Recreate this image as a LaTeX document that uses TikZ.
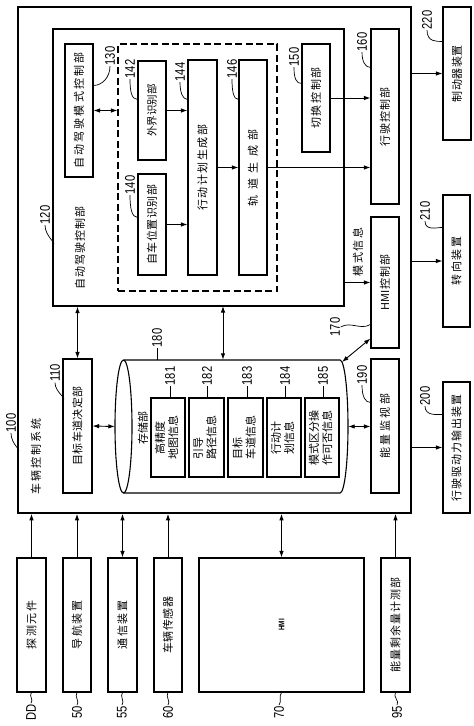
\documentclass[tikz,border=0pt]{standalone}
\usepackage{graphicx}
\usepackage{fontspec}
\setmainfont{Noto Sans CJK SC}
\newfontfamily\numfont[FakeStretch=0.8]{Liberation Sans}
\usetikzlibrary{arrows.meta,calc}
\newdimen\gapamt
\def\spxx#1{\ifx#1\relax\else\kern\gapamt#1\expandafter\spxx\fi}
\def\spfirst#1{#1\spxx}
\newcommand\ls[2]{\gapamt=#1\relax\spfirst#2\relax}
\begin{document}
\begin{tikzpicture}[x=1pt,y=-1pt,
  box/.style={draw, line width=1.1pt, inner sep=0pt, font=\fontsize{11}{13}\selectfont},
  lbl/.style={rotate=90, font=\numfont\fontsize{14}{14}\selectfont, inner sep=0.5pt},
  arr/.style={line width=0.9pt, -{Latex[length=6.5pt,width=4.5pt]}},
  darr/.style={line width=0.9pt, {Latex[length=6.5pt,width=4.5pt]}-{Latex[length=6.5pt,width=4.5pt]}},
  lead/.style={line width=0.7pt},
  vt/.style={rotate=90, font=\fontsize{11}{13}\selectfont, inner sep=1pt}
]
\useasboundingbox (0,0) rectangle (474,726);

% frames
\node[draw, line width=1.6pt, minimum width=393pt, minimum height=506pt, inner sep=0pt] (b100) at (214.5,260) {};
\node[draw, line width=1.2pt, minimum width=291pt, minimum height=277pt, inner sep=0pt] (b120) at (198.5,167.5) {};
\node[draw, line width=1.1pt, dash pattern=on 7pt off 3.5pt, minimum width=159pt, minimum height=247pt, inner sep=0pt] (ap) at (197.5,167.5) {};

% inner boxes
\node[box, minimum width=28pt, minimum height=133pt] (b130) at (79,110.5) {\rotatebox{90}{\ls{2.2pt}{自动驾驶模式控制部}}};
\node[box, minimum width=28pt, minimum height=99pt] (b142) at (152,110.5) {\rotatebox{90}{\fontsize{10.5}{12}\selectfont 外界识别部}};
\node[box, minimum width=28pt, minimum height=101pt] (b140) at (152,224.5) {\rotatebox{90}{\ls{0.5pt}{自车位置识别部}}};
\node[box, minimum width=29pt, minimum height=215pt] (b144) at (202.5,167.5) {\rotatebox{90}{\ls{1.5pt}{行动计划生成部}}};
\node[box, minimum width=28pt, minimum height=215pt] (b146) at (253,167.5) {\rotatebox{90}{\ls{5.5pt}{轨道生成部}}};
\node[box, minimum width=28pt, minimum height=108pt] (b150) at (316,98) {\rotatebox{90}{\ls{1.6pt}{切换控制部}}};
\node[box, minimum width=28pt, minimum height=175pt] (b160) at (385,116.5) {\rotatebox{90}{\ls{1pt}{行驶控制部}}};
\node[box, minimum width=28pt, minimum height=131pt] (b170) at (385,282.5) {\rotatebox{90}{HMI\ls{1pt}{控制部}}};
\node[box, minimum width=28pt, minimum height=134pt] (b190) at (385,426) {\rotatebox{90}{\ls{2.5pt}{能量监视部}}};
\node[box, minimum width=29pt, minimum height=134pt] (b110) at (77.5,426) {\rotatebox{90}{\ls{0.3pt}{目标车道决定部}}};

% storage cylinder
\node[minimum width=233pt, minimum height=133pt, inner sep=0pt] (st) at (231.5,426.5) {};
\draw[line width=1.1pt] (123.5,360) -- (340,360) arc[start angle=90, end angle=-90, x radius=8pt, y radius=66.5pt] -- (123.5,493);
\draw[line width=1.1pt] (123.5,426.5) ellipse [x radius=8.5pt, y radius=66.5pt];
\node[vt] (tst) at (143,428) {存储部};
\node[box, minimum width=34pt, minimum height=79pt] (b181) at (168,437.5) {\rotatebox{90}{\begin{tabular}{@{}c@{}}高精度\\地图信息\end{tabular}}};
\node[box, minimum width=35pt, minimum height=79pt] (b182) at (206.5,437.5) {\rotatebox{90}{\begin{tabular}{@{}l@{}}引导\\路径信息\end{tabular}}};
\node[box, minimum width=35pt, minimum height=79pt] (b183) at (245.5,437.5) {\rotatebox{90}{\begin{tabular}{@{}l@{}}目标\\车道信息\end{tabular}}};
\node[box, minimum width=34pt, minimum height=79pt] (b184) at (284,437.5) {\rotatebox{90}{\begin{tabular}{@{}c@{}}行动计\\划信息\end{tabular}}};
\node[box, minimum width=34pt, minimum height=79pt] (b185) at (322,437.5) {\rotatebox{90}{\begin{tabular}{@{}c@{}}模式区分操\\作可否信息\end{tabular}}};

% outside right
\node[box, minimum width=28pt, minimum height=133pt] (b220) at (457,73.5) {\rotatebox{90}{\ls{0.5pt}{制动器装置}}};
\node[box, minimum width=27pt, minimum height=132pt] (b210) at (456.5,261) {\rotatebox{90}{\ls{1.5pt}{转向装置}}};
\node[box, minimum width=27pt, minimum height=131pt] (b200) at (456.5,447.5) {\rotatebox{90}{\ls{1pt}{行驶驱动力输出装置}}};

% outside bottom
\node[box, minimum width=29pt, minimum height=134pt] (bDD) at (31.5,625) {\rotatebox{90}{\ls{1.5pt}{探测元件}}};
\node[box, minimum width=28pt, minimum height=134pt] (b50) at (77,625) {\rotatebox{90}{\ls{1.5pt}{导航装置}}};
\node[box, minimum width=29pt, minimum height=134pt] (b55) at (122.5,625) {\rotatebox{90}{\ls{1.5pt}{通信装置}}};
\node[box, minimum width=28pt, minimum height=134pt] (b60) at (168,625) {\rotatebox{90}{\ls{0.5pt}{车辆传感器}}};
\node[box, minimum width=165pt, minimum height=134pt] (b70) at (281.5,625) {\rotatebox{90}{\numfont\bfseries\fontsize{8}{9}\selectfont HMI}};
\node[box, minimum width=29pt, minimum height=134pt] (b95) at (395.5,625) {\rotatebox{90}{\ls{1pt}{能量剩余量计测部}}};

% frame texts
\node[vt] (t100) at (36,456) {\ls{2pt}{车辆控制系统}};
\node[vt] (t120) at (80,248) {\ls{1pt}{自动驾驶控制部}};
\node[vt] (tmode) at (358,252) {\ls{1.5pt}{模式信息}};

% connectors
\draw[darr] (b130.east) -- (b130.east -| ap.west);
\draw[arr] (b142.east) -- (b142.east -| b144.west);
\draw[arr] (b140.east) -- (b140.east -| b144.west);
\draw[arr] (b144.east) -- (b146.west);
\draw[arr] (b146.east) -- (b146.east -| b160.west);
\draw[arr] (b150.east) -- (b150.east -| b160.west);
\draw[arr] (b170.west -| b120.east) -- (b170.west);
\draw[darr] (b110.north) -- (b110.north |- b120.south);
\coordinate (c1) at (223,306);
\draw[darr] (c1) -- (c1 |- st.north);
\draw[darr] (b110.east) -- (st.west);
\draw[darr] (st.east) -- (st.east -| b190.west);
\coordinate (c2) at (342,362);
\draw[darr] (c2) -- ($(b170.south west)+(0,-10)$);
\draw[arr] (b220.west -| b100.east) -- (b220.west);
\draw[arr] (b210.west -| b100.east) -- (b210.west);
\draw[arr] (b200.west -| b100.east) -- (b200.west);
\draw[arr] (bDD.north) -- (bDD.north |- b100.south);
\draw[arr] (b50.north) -- (b50.north |- b100.south);
\draw[darr] (b55.north) -- (b55.north |- b100.south);
\draw[arr] (b60.north) -- (b60.north |- b100.south);
\draw[darr] (b70.north) -- (b70.north |- b100.south);
\draw[arr] (b95.north) -- (b95.north |- b100.south);

% reference labels
\node[lbl] (L100) at (11,423) {100};
\node[lbl] (L110) at (55,373) {110};
\node[lbl] (L120) at (45,215) {120};
\node[lbl] (L130) at (110,56) {130};
\node[lbl] (L140) at (130,185) {140};
\node[lbl] (L142) at (130,69) {142};
\node[lbl] (L144) at (180,72) {144};
\node[lbl] (L146) at (232,69) {146};
\node[lbl] (L150) at (294,57) {150};
\node[lbl] (L160) at (362,42) {160};
\node[lbl] (L170) at (335,327) {170};
\node[lbl] (L180) at (157,338) {180};
\node[lbl] (L181) at (170,376) {181};
\node[lbl] (L182) at (207,376) {182};
\node[lbl] (L183) at (247,376) {183};
\node[lbl] (L184) at (285,376) {184};
\node[lbl] (L185) at (323,376) {185};
\node[lbl] (L190) at (362,375) {190};
\node[lbl] (L200) at (425,396) {200};
\node[lbl] (L210) at (425,211) {210};
\node[lbl] (L220) at (427,20) {220};
\node[lbl] (LDD) at (31,712) {DD};
\node[lbl] (L50) at (77,712) {50};
\node[lbl] (L55) at (122,712) {55};
\node[lbl] (L60) at (168,712) {60};
\node[lbl] (L70) at (279,712) {70};
\node[lbl] (L95) at (397,712) {95};

% leaders
\draw[lead] (L100.west) .. controls +(0,12) and +(6,0) .. ($(b100.north west)+(0,445)$);
\draw[lead] (L110.west) .. controls +(0,10) and +(6,0) .. ($(b110.north west)+(0,41)$);
\draw[lead] (L120.west) .. controls +(0,12) and +(6,0) .. ($(b120.north west)+(0,216)$);
\draw[lead] (L130.west) .. controls +(0,12) and +(8,0) .. ($(b130.north east)+(0,42)$);
\draw[lead] (L140.west) .. controls +(0,12) and +(-6,0) .. ($(b140.north west)+(0,44)$);
\draw[lead] (L142.west) .. controls +(0,12) and +(-6,0) .. ($(b142.north west)+(0,39)$);
\draw[lead] (L144.west) .. controls +(0,10) and +(-5,0) .. ($(b144.north west)+(0,40)$);
\draw[lead] (L146.west) .. controls +(0,12) and +(-5,0) .. ($(b146.north west)+(0,40)$);
\draw[lead] (L150.west) .. controls +(0,12) and +(-5,0) .. ($(b150.north west)+(0,40)$);
\draw[lead] (L160.west) .. controls +(0,10) and +(-5,0) .. ($(b160.north west)+(0,39)$);
\draw[lead] (L170.south) .. controls +(10,-6) and +(-10,6) .. ($(b170.north west)+(0,108)$);
\draw[lead] (L180.west) -- (L180.west |- st.north);
\draw[lead] (L181.west) -- (L181.west |- b181.north);
\draw[lead] (L182.west) -- (L182.west |- b182.north);
\draw[lead] (L183.west) -- (L183.west |- b183.north);
\draw[lead] (L184.west) -- (L184.west |- b184.north);
\draw[lead] (L185.west) -- (L185.west |- b185.north);
\draw[lead] (L190.west) .. controls +(0,12) and +(-5,0) .. ($(b190.north west)+(0,44)$);
\draw[lead] (L200.west) .. controls +(0,10) and +(-6,0) .. ($(b200.north west)+(0,33)$);
\draw[lead] (L210.west) .. controls +(0,10) and +(-6,0) .. ($(b210.north west)+(0,33)$);
\draw[lead] (L220.west) .. controls +(0,12) and +(-6,0) .. ($(b220.north west)+(0,35)$);
\draw[lead] (bDD.south) .. controls +(-3,4) and +(3,-4) .. (LDD.east);
\draw[lead] (b50.south) .. controls +(-3,4) and +(3,-4) .. (L50.east);
\draw[lead] (b55.south) .. controls +(-3,4) and +(3,-4) .. (L55.east);
\draw[lead] (b60.south) .. controls +(-3,4) and +(3,-4) .. (L60.east);
\draw[lead] (b70.south) .. controls +(-3,4) and +(3,-4) .. (L70.east);
\draw[lead] (b95.south) .. controls +(-3,4) and +(3,-4) .. (L95.east);
\end{tikzpicture}
\end{document}
